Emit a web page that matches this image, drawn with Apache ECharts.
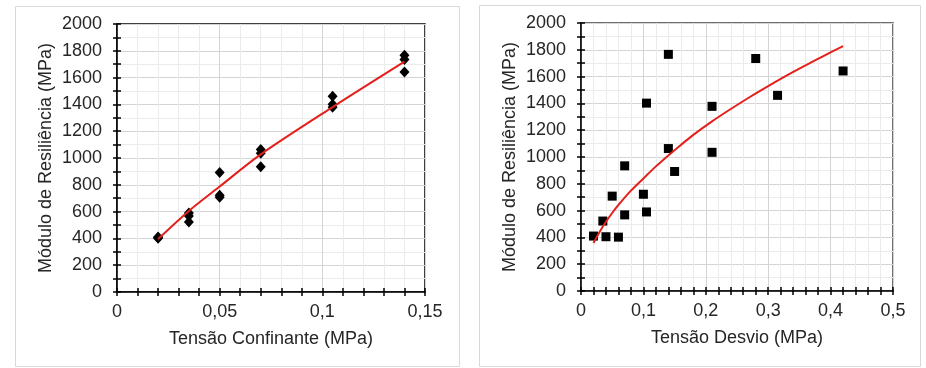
<!DOCTYPE html>
<html><head><meta charset="utf-8">
<script src="https://cdn.jsdelivr.net/npm/echarts@6/dist/echarts.min.js"></script>
<style>html,body{margin:0;padding:0;background:#fff}#c{width:926px;height:368px}</style>
</head><body><div id="c"></div>
<script>
// Data
const sigma3 = [0.02,0.02,0.02, 0.035,0.035,0.035, 0.05,0.05,0.05, 0.07,0.07,0.07, 0.105,0.105,0.105, 0.14,0.14,0.14];
const sigmaD = [0.02,0.04,0.06, 0.035,0.07,0.105, 0.05,0.1,0.15, 0.07,0.14,0.21, 0.105,0.21,0.315, 0.14,0.28,0.42];
const mr     = [410,405,402, 522,568,590, 708,722,892, 934,1063,1035, 1402,1378,1460, 1766,1735,1642];
// Trend lines
const trendLeftX  = [0.02, 0.035, 0.05, 0.07, 0.105, 0.14];
const trendLeftY  = [395, 605, 787, 1027, 1380, 1719];
const trendRightX = [0.02, 0.03, 0.04, 0.05, 0.06, 0.08, 0.10, 0.12, 0.14, 0.16, 0.18, 0.21, 0.24, 0.27, 0.30, 0.33, 0.36, 0.39, 0.42];
const trendRightY = [358, 443, 517, 582, 642, 749, 840, 930, 1012, 1090, 1165, 1266, 1358, 1446, 1529, 1609, 1684, 1757, 1828];
const yTitle = 'Módulo de Resiliência (MPa)';
const xTitleLeft = 'Tensão Confinante (MPa)';
const xTitleRight = 'Tensão Desvio (MPa)';

const FONT = 'Liberation Sans, Arial, sans-serif';
const TXT = '#262626';
const FS = 18;
const fmt = v => Number(v.toFixed(3)).toString().replace('.', ',');
const fmtY = v => String(Math.round(v));

function xAxes(grid, max, interval, name) {
  return [{
    type:'value', gridIndex:grid, min:0, max:max, interval:interval,
    name:name, nameLocation:'middle', nameGap:38,
    nameTextStyle:{fontFamily:FONT,fontSize:FS,color:TXT},
    axisLine:{show:true,onZero:false,lineStyle:{color:'#000',width:1.5}},
    axisTick:{show:true,inside:false,length:4,lineStyle:{color:'#000',width:1.5}},
    minorTick:{show:true,splitNumber:5,length:4,lineStyle:{color:'#000',width:1.5}},
    axisLabel:{fontFamily:FONT,fontSize:FS,color:TXT,margin:11,formatter:fmt},
    splitLine:{show:true,lineStyle:{color:'#d4d4d4',width:1}},
    minorSplitLine:{show:true,lineStyle:{color:'#ebebeb',width:1}}
  },{
    type:'value', gridIndex:grid, min:0, max:max, interval:interval, position:'bottom',
    axisLine:{show:false}, axisLabel:{show:false}, splitLine:{show:false},
    axisTick:{show:true,inside:true,length:4,lineStyle:{color:'#000',width:1.5}},
    minorTick:{show:true,splitNumber:5,length:4,lineStyle:{color:'#000',width:1.5}}
  }];
}
function yAxes(grid) {
  return [{
    type:'value', gridIndex:grid, min:0, max:2000, interval:200,
    name:yTitle, nameLocation:'middle', nameGap:62, nameRotate:90,
    nameTextStyle:{fontFamily:FONT,fontSize:FS,color:TXT},
    axisLine:{show:true,onZero:false,lineStyle:{color:'#000',width:1.5}},
    axisTick:{show:true,inside:false,length:4,lineStyle:{color:'#000',width:1.5}},
    minorTick:{show:true,splitNumber:2,length:4,lineStyle:{color:'#000',width:1.5}},
    axisLabel:{fontFamily:FONT,fontSize:FS,color:TXT,margin:15,formatter:fmtY},
    splitLine:{show:true,lineStyle:{color:'#d4d4d4',width:1}},
    minorSplitLine:{show:true,lineStyle:{color:'#ebebeb',width:1}}
  },{
    type:'value', gridIndex:grid, min:0, max:2000, interval:200, position:'left',
    axisLine:{show:false}, axisLabel:{show:false}, splitLine:{show:false},
    axisTick:{show:true,inside:true,length:4,lineStyle:{color:'#000',width:1.5}},
    minorTick:{show:true,splitNumber:2,length:4,lineStyle:{color:'#000',width:1.5}}
  }];
}

const chart = echarts.init(document.getElementById('c'), null, {renderer:'canvas'});
chart.setOption({
  animation:false,
  backgroundColor:'#fff',
  graphic:[
    {type:'rect',shape:{x:15.5,y:6.5,width:444,height:360},style:{fill:'none',stroke:'#d9d9d9',lineWidth:1},z:-10},
    {type:'rect',shape:{x:479.5,y:5.5,width:441,height:361},style:{fill:'none',stroke:'#d9d9d9',lineWidth:1},z:-10}
  ],
  grid:[
    {left:117,top:24,width:308,height:268,show:true,borderColor:'#000',borderWidth:1.5,backgroundColor:'transparent'},
    {left:581,top:23,width:312,height:268,show:true,borderColor:'#404040',borderWidth:1.5,backgroundColor:'transparent'}
  ],
  xAxis:[...xAxes(0,0.15,0.05,xTitleLeft), ...xAxes(1,0.5,0.1,xTitleRight)],
  yAxis:[...yAxes(0), ...yAxes(1)],
  series:[
    {type:'line',xAxisIndex:0,yAxisIndex:0,data:trendLeftX.map((x,i)=>[x,trendLeftY[i]]),smooth:0.3,showSymbol:false,
     lineStyle:{color:'#e3201b',width:2},z:3},
    {type:'scatter',xAxisIndex:0,yAxisIndex:0,data:sigma3.map((x,i)=>[x,mr[i]]),symbol:'diamond',symbolSize:[10,11],
     itemStyle:{color:'#000',opacity:1},z:2},
    {type:'scatter',xAxisIndex:2,yAxisIndex:2,data:sigmaD.map((x,i)=>[x,mr[i]]),symbol:'rect',symbolSize:9,
     itemStyle:{color:'#000',opacity:1},z:2},
    {type:'line',xAxisIndex:2,yAxisIndex:2,data:trendRightX.map((x,i)=>[x,trendRightY[i]]),smooth:0.3,showSymbol:false,
     lineStyle:{color:'#e3201b',width:2},z:3}
  ]
});
</script></body></html>
